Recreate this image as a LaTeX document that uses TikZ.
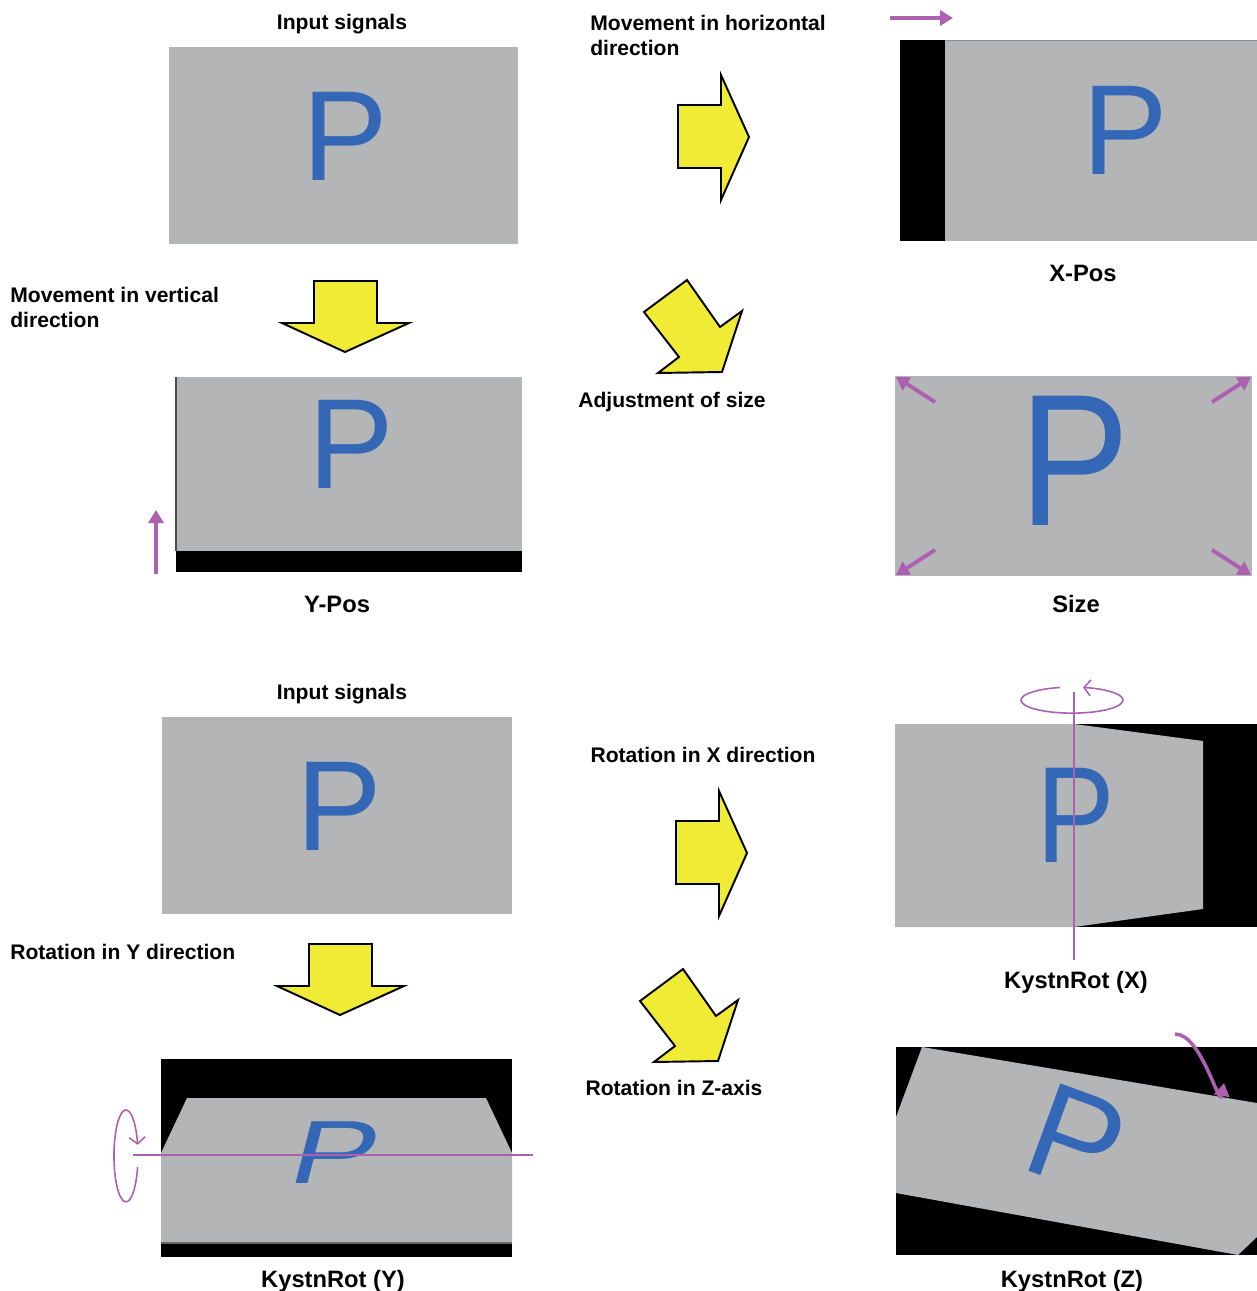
\documentclass[tikz,border=0pt]{standalone}
\usepackage{fontspec}
\setmainfont{Liberation Sans}
\usetikzlibrary{arrows.meta}
\definecolor{plate}{RGB}{180,181,183}
\definecolor{pblue}{RGB}{52,104,182}
\definecolor{mauve}{RGB}{172,96,176}
\definecolor{arrowyel}{RGB}{240,235,52}
\tikzset{
  caption/.style={font=\bfseries\fontsize{12}{14.7}\selectfont, inner sep=0pt},
  platename/.style={font=\bfseries\fontsize{13.5}{16}\selectfont, inner sep=0pt, anchor=base},
  letter/.style={text=pblue, inner sep=0pt, font=\fontsize{73}{73}\selectfont},
  fat/.style={draw=black, line width=1.1pt, fill=arrowyel, line join=miter},
  shove/.style={draw=mauve, line width=2.2pt, -{Triangle[length=0.26cm,width=0.3cm]}},
  axisline/.style={draw=mauve, line width=0.9pt},
  spin/.style={draw=mauve, line width=0.9pt, -{Straight Barb[length=0.13cm,width=0.32cm]}},
}

\begin{document}
\begin{tikzpicture}[x=0.02cm,y=-0.02cm]
			%%%%% START %%%%%
			\useasboundingbox (0,0) rectangle (1257,1291);
			
			% input signals, top
			\node[caption, anchor=base] (intop) at (342,29.5) {Input signals};
			\fill[plate] (169,47) rectangle (518,244);
			\node[letter] (pA) at (345,136) {P};
			
			\node[caption, anchor=north west, align=left] (movh) at (590,14.5) {Movement in horizontal\\direction};
			\draw[fat] (678,105) -- (721,105) -- (721,75) -- (749,137) -- (721,200) -- (721,168) -- (678,168) -- cycle;
			
			% X-Pos
			\draw[shove] (890,18) -- (953,18);
			\fill[black] (900,40) rectangle (1257,241);
			\fill[plate] (945,40) rectangle (1257,241);
			\draw[black!45, line width=0.5pt] (945,40) -- (1257,40);
			\node[letter] (pX) at (1125,130) {P};
			\node[platename] (xpos) at (1083,281) {X-Pos};
			
			\node[caption, anchor=north west, align=left] (movv) at (10,286.5) {Movement in vertical\\direction};
			\draw[fat] (314,281) -- (377,281) -- (377,323) -- (409,323) -- (345,352) -- (282,323) -- (314,323) -- cycle;
			
			\draw[fat] (687,280) -- (720,327) -- (742,311) -- (722,372) -- (658,373) -- (679,357) -- (644,312) -- cycle;
			\node[caption, anchor=base] (adj) at (672,407.5) {Adjustment of size};
			
			% Y-Pos
			\fill[plate] (176,377) rectangle (522,551);
			\fill[black] (176,551) rectangle (522,572);
			\draw[black!70, line width=0.6pt] (176,377) -- (176,551);
			\node[letter] (pY) at (351,444) {P};
			\draw[shove] (156,574) -- (156,510);
			\node[platename] (ypos) at (337,612) {Y-Pos};
			
			% Size
			\fill[plate] (895,376) rectangle (1252,576);
			\node[letter, font=\fontsize{107}{107}\selectfont, xscale=0.88] (pS) at (1075,461) {P};
			\draw[shove] (935,402) -- (896,377);
			\draw[shove] (1212,402) -- (1251,377);
			\draw[shove] (935,550) -- (896,575);
			\draw[shove] (1212,550) -- (1251,575);
			\node[platename] (size) at (1076,612) {Size};
			
			% input signals, bottom
			\node[caption, anchor=base] (inbot) at (342,699.5) {Input signals};
			\fill[plate] (162,717) rectangle (512,914);
			\node[letter] (pB) at (339,806) {P};
			
			\node[caption, anchor=base] (rotx) at (703,762.5) {Rotation in X direction};
			\draw[fat, shift={(-2,716)}] (678,105) -- (721,105) -- (721,75) -- (749,137) -- (721,200) -- (721,168) -- (678,168) -- cycle;
			
			% KystnRot (X)
			\fill[black] (895,724) rectangle (1257,927);
			\fill[plate] (895,724) -- (1074,724) -- (1203,741) -- (1203,909) -- (1074,927) -- (895,927) -- cycle;
			\node[letter, font=\fontsize{78}{78}\selectfont, xscale=0.86] (pRX) at (1076,815) {P};
			\draw[axisline] (1074,692) -- (1074,960);
			\draw[spin] (1060,687.5) arc[start angle=256.4, end angle=-77.5, x radius=51, y radius=13];
			\node[platename] (kx) at (1076,988) {KystnRot (X)};
			
			\node[caption, anchor=base west] (roty) at (10,959.5) {Rotation in Y direction};
			\draw[fat, shift={(-5,663)}] (314,281) -- (377,281) -- (377,323) -- (409,323) -- (345,352) -- (282,323) -- (314,323) -- cycle;
			
			\draw[fat, shift={(-4,689)}] (687,280) -- (720,327) -- (742,311) -- (722,372) -- (658,373) -- (679,357) -- (644,312) -- cycle;
			\node[caption, anchor=base] (rotz) at (674,1095.5) {Rotation in Z-axis};
			
			% KystnRot (Y)
			\fill[black] (161,1059) rectangle (512,1257);
			\fill[plate] (187,1098) -- (486,1098) -- (512,1153) -- (512,1243) -- (161,1243) -- (161,1153) -- cycle;
			\draw[black!60, line width=0.6pt] (161,1243) -- (512,1243);
			\node[letter, yscale=0.7, xslant=0.18] (pRY) at (336,1153) {P};
			\draw[axisline] (133,1155) -- (533,1155);
			\draw[spin] (137.6,1167) arc[start angle=14, end angle=346, x radius=12, y radius=46];
			\node[platename] (ky) at (333,1287) {KystnRot (Y)};
			
			% KystnRot (Z)
			\fill[black] (896,1047) rectangle (1257,1255);
			\fill[plate] (896,1117) -- (922,1047) -- (1257,1103) -- (1257,1237) -- (1238,1255) -- (896,1193) -- cycle;
			\node[letter, font=\fontsize{77}{77}\selectfont, rotate=-20] (pRZ) at (1077,1139) {P};
			\draw[shove, line width=2pt] (1175,1034) to[out=0,in=-100] (1224,1083);
			\node[platename] (kz) at (1072,1287) {KystnRot (Z)};
			%%%%% END %%%%%
\end{tikzpicture}
\end{document}
